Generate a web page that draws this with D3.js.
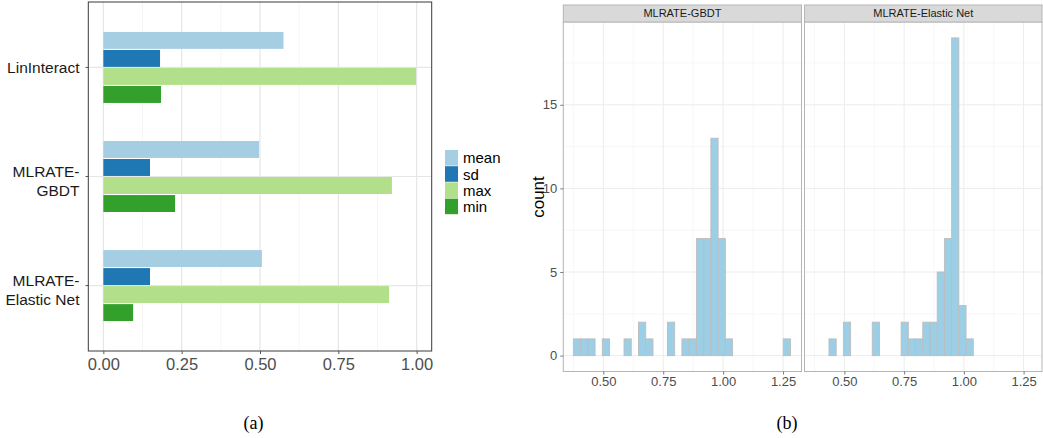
<!DOCTYPE html>
<html>
<head>
<meta charset="utf-8">
<script src="https://cdn.jsdelivr.net/npm/d3@7"></script>
<style>
  body { margin: 0; background: #fff; }
  svg { display: block; }
</style>
</head>
<body>
<div id="chart"></div>
<script>
// (a) summary statistics per method
const methods = ["LinInteract", "MLRATE-GBDT", "MLRATE-Elastic Net"];
const methodLines = [["LinInteract"], ["MLRATE-", "GBDT"], ["MLRATE-", "Elastic Net"]];
const stats = ["mean", "sd", "max", "min"];
const meanVals = [0.575, 0.497, 0.506];
const sdVals = [0.181, 0.149, 0.149];
const maxVals = [0.998, 0.921, 0.912];
const minVals = [0.184, 0.229, 0.095];
const statColors = ["#a6cee3", "#1f78b4", "#b2df8a", "#33a02c"];
const xTicksA = [0, 0.25, 0.5, 0.75, 1];
const xMinorA = [0.125, 0.375, 0.625, 0.875];

// (b) histogram counts, 30 bins between binLo and binHi
const facets = ["MLRATE-GBDT", "MLRATE-Elastic Net"];
const binLo = 0.375, binHi = 1.281, nBins = 30;
const gbdtCounts = [1,1,1,0,1,0,0,1,0,2,1,0,0,2,0,1,1,7,7,13,7,1,0,0,0,0,0,0,0,1];
const elasticCounts = [0,0,1,0,2,0,0,0,2,0,0,0,2,1,1,2,2,5,7,19,3,1,0,0,0,0,0,0,0,0];
const xTicksB = [0.5, 0.75, 1, 1.25];
const xMinorB = [0.375, 0.625, 0.875, 1.125];
const yTicksB = [0, 5, 10, 15];
const yMinorB = [2.5, 7.5, 12.5, 17.5];

const svg = d3.select("#chart")
    .append("svg")
    .attr("width", 1043)
    .attr("height", 438);

const sans = "'Liberation Sans', Arial, sans-serif";

// ---------- panel (a) ----------
const xA = d3.scaleLinear().domain([-0.048, 1.048]).range([88.3, 431.7]);
const yA = d3.scalePoint().domain(methods).range([2, 351]).padding(0.6);
const inner = d3.scaleBand().domain(stats).range([-35.5, 35.5]).paddingInner(0.06);
const colorA = d3.scaleOrdinal().domain(stats).range(statColors);

const gA = svg.append("g");

// grid
gA.selectAll("line.minor")
    .data(xMinorA)
    .join("line")
    .attr("x1", d => xA(d)).attr("x2", d => xA(d))
    .attr("y1", 2).attr("y2", 351)
    .attr("stroke", "#f3f3f3").attr("stroke-width", 0.8);
gA.selectAll("line.major")
    .data(xTicksA)
    .join("line")
    .attr("x1", d => xA(d)).attr("x2", d => xA(d))
    .attr("y1", 2).attr("y2", 351)
    .attr("stroke", "#e6e6e6").attr("stroke-width", 1.2);
gA.selectAll("line.hgrid")
    .data(methods)
    .join("line")
    .attr("x1", 88.3).attr("x2", 431.7)
    .attr("y1", d => yA(d)).attr("y2", d => yA(d))
    .attr("stroke", "#e6e6e6").attr("stroke-width", 1.2);

// bars
const rows = [];
methods.forEach((m, i) => {
    const vals = [meanVals[i], sdVals[i], maxVals[i], minVals[i]];
    stats.forEach((s, j) => rows.push({ method: m, stat: s, value: vals[j] }));
});
gA.selectAll("rect.bar")
    .data(rows)
    .join("rect")
    .attr("x", xA(0))
    .attr("y", d => yA(d.method) + inner(d.stat))
    .attr("width", d => xA(d.value) - xA(0))
    .attr("height", inner.bandwidth())
    .attr("fill", d => colorA(d.stat));

// border
gA.append("rect")
    .attr("x", 88.3).attr("y", 2)
    .attr("width", 431.7 - 88.3).attr("height", 349)
    .attr("fill", "none").attr("stroke", "#3a3a3a").attr("stroke-width", 1);

// x axis
const axA = gA.append("g")
    .attr("transform", "translate(0,351)")
    .call(d3.axisBottom(xA).tickValues(xTicksA).tickFormat(d3.format(".2f")).tickSize(3).tickPadding(4));
axA.select(".domain").remove();
axA.selectAll(".tick line").attr("stroke", "#555");
axA.selectAll("text").attr("font-family", sans).attr("font-size", 16.5).attr("fill", "#4d4d4d");

// y tick marks + multi-line labels
gA.selectAll("line.ytick")
    .data(methods)
    .join("line")
    .attr("x1", 85.5).attr("x2", 88.3)
    .attr("y1", d => yA(d)).attr("y2", d => yA(d))
    .attr("stroke", "#555");
methods.forEach((m, i) => {
    const lines = methodLines[i];
    const t = gA.append("text")
        .attr("text-anchor", "end")
        .attr("font-family", sans)
        .attr("font-size", 15.5)
        .attr("fill", "#1a1a1a");
    const offs = lines.length === 1 ? [0] : [-5.5, 14];
    lines.forEach((ln, k) => {
        t.append("tspan")
            .attr("x", 79.5)
            .attr("y", yA(m) + offs[k])
            .attr("dy", "0.36em")
            .text(ln);
    });
});

// legend
const leg = svg.append("g").attr("transform", "translate(445,150)");
stats.forEach((s, i) => {
    leg.append("rect")
        .attr("x", 0).attr("y", i * 16.2)
        .attr("width", 13).attr("height", 15.6)
        .attr("fill", colorA(s));
    leg.append("text")
        .attr("x", 18).attr("y", i * 16.2 + 8)
        .attr("dy", "0.36em")
        .attr("font-family", sans).attr("font-size", 15)
        .attr("fill", "#000")
        .text(s);
});

// ---------- panel (b) ----------
const yB = d3.scaleLinear().domain([-0.95, 19.95]).range([371.5, 22]);
const panelsB = [
    { name: facets[0], counts: gbdtCounts, x0: 563.3, x1: 801.5 },
    { name: facets[1], counts: elasticCounts, x0: 804.5, x1: 1042 }
];
const binW = (binHi - binLo) / nBins;

panelsB.forEach((p, pi) => {
    const xB = d3.scaleLinear().domain([0.333, 1.327]).range([p.x0, p.x1]);
    const g = svg.append("g");

    // grid
    g.selectAll("line.vmin").data(xMinorB).join("line")
        .attr("x1", d => xB(d)).attr("x2", d => xB(d))
        .attr("y1", 22).attr("y2", 371.5)
        .attr("stroke", "#f5f5f5").attr("stroke-width", 0.8);
    g.selectAll("line.hmin").data(yMinorB).join("line")
        .attr("x1", p.x0).attr("x2", p.x1)
        .attr("y1", d => yB(d)).attr("y2", d => yB(d))
        .attr("stroke", "#f5f5f5").attr("stroke-width", 0.8);
    g.selectAll("line.vmaj").data(xTicksB).join("line")
        .attr("x1", d => xB(d)).attr("x2", d => xB(d))
        .attr("y1", 22).attr("y2", 371.5)
        .attr("stroke", "#ececec").attr("stroke-width", 1);
    g.selectAll("line.hmaj").data(yTicksB).join("line")
        .attr("x1", p.x0).attr("x2", p.x1)
        .attr("y1", d => yB(d)).attr("y2", d => yB(d))
        .attr("stroke", "#ececec").attr("stroke-width", 1);

    // bars
    const bins = p.counts.map((c, i) => ({ lo: binLo + i * binW, hi: binLo + (i + 1) * binW, count: c }));
    g.selectAll("rect.bin").data(bins).join("rect")
        .attr("x", d => xB(d.lo))
        .attr("y", d => yB(d.count))
        .attr("width", d => xB(d.hi) - xB(d.lo))
        .attr("height", d => yB(0) - yB(d.count))
        .attr("fill", "#9ccfe5")
        .attr("stroke", "#bdbdbd")
        .attr("stroke-width", 0.9);

    // border
    g.append("rect")
        .attr("x", p.x0).attr("y", 22)
        .attr("width", p.x1 - p.x0).attr("height", 371.5 - 22)
        .attr("fill", "none").attr("stroke", "#b5b5b5").attr("stroke-width", 1);

    // strip
    g.append("rect")
        .attr("x", p.x0).attr("y", 5)
        .attr("width", p.x1 - p.x0).attr("height", 17)
        .attr("fill", "#d9d9d9").attr("stroke", "#b5b5b5").attr("stroke-width", 1);
    g.append("text")
        .attr("x", (p.x0 + p.x1) / 2).attr("y", 13.5)
        .attr("dy", "0.36em")
        .attr("text-anchor", "middle")
        .attr("font-family", sans).attr("font-size", 11)
        .attr("fill", "#1a1a1a")
        .text(p.name);

    // x axis
    const ax = g.append("g")
        .attr("transform", "translate(0,371.5)")
        .call(d3.axisBottom(xB).tickValues(xTicksB).tickFormat(d3.format(".2f")).tickSize(3).tickPadding(2));
    ax.select(".domain").remove();
    ax.selectAll(".tick line").attr("stroke", "#777");
    ax.selectAll("text").attr("font-family", sans).attr("font-size", 13).attr("fill", "#4d4d4d");

    // y axis on first facet only
    if (pi === 0) {
        const ay = g.append("g")
            .attr("transform", `translate(${p.x0},0)`)
            .call(d3.axisLeft(yB).tickValues(yTicksB).tickSize(3).tickPadding(3));
        ay.select(".domain").remove();
        ay.selectAll(".tick line").attr("stroke", "#777");
        ay.selectAll("text").attr("font-family", sans).attr("font-size", 13).attr("fill", "#4d4d4d");
    }
});

svg.append("text")
    .attr("transform", "translate(544,197) rotate(-90)")
    .attr("text-anchor", "middle")
    .attr("font-family", sans).attr("font-size", 17)
    .attr("fill", "#000")
    .text("count");

// captions
const serif = "'Liberation Serif', 'Times New Roman', serif";
svg.append("text").attr("x", 253.5).attr("y", 429).attr("text-anchor", "middle")
    .attr("font-family", serif).attr("font-size", 18).text("(a)");
svg.append("text").attr("x", 787).attr("y", 429).attr("text-anchor", "middle")
    .attr("font-family", serif).attr("font-size", 18).text("(b)");
</script>
</body>
</html>
